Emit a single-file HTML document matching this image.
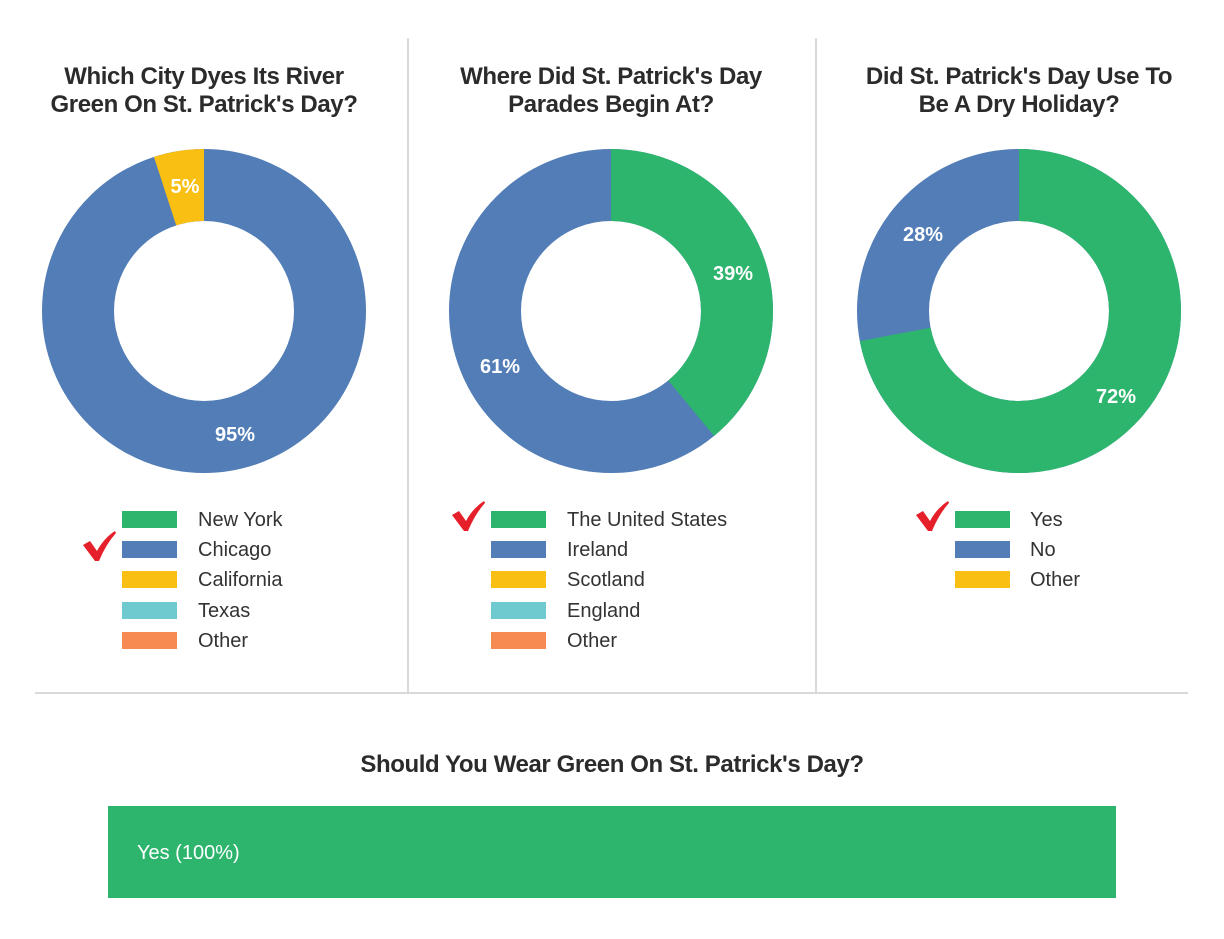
<!DOCTYPE html>
<html><head><meta charset="utf-8"><style>
body{margin:0;width:1224px;height:939px;background:#fff;position:relative;font-family:"Liberation Sans",Arial,sans-serif;overflow:hidden}
.t{position:absolute;font-weight:bold;font-size:24px;color:#2b2b2b;text-align:center;line-height:28px;letter-spacing:-0.4px;width:400px}
.sw{position:absolute;width:55px;height:17px}
.lt{position:absolute;font-size:20px;color:#333;line-height:20px}
.ln{position:absolute;background:#d9d9d9}
</style></head><body>
<div class="ln" style="left:407px;top:38px;width:2px;height:655px"></div>
<div class="ln" style="left:815px;top:38px;width:2px;height:655px"></div>
<div class="ln" style="left:35px;top:692px;width:1153px;height:2px"></div>
<div class="t" style="left:4px;top:63px">Which City Dyes Its River<br>Green On St. Patrick's Day?</div>
<div class="t" style="left:411px;top:63px">Where Did St. Patrick's Day<br>Parades Begin At?</div>
<div class="t" style="left:819px;top:63px">Did St. Patrick's Day Use To<br>Be A Dry Holiday?</div>
<svg width="1224" height="939" style="position:absolute;left:0;top:0">
<g fill="none" stroke-width="72">
<circle cx="204" cy="311" r="126" stroke="#527DB7"/>
<circle cx="204" cy="311" r="126" stroke="#F9C013" stroke-dasharray="39.6 800" transform="rotate(-108 204 311)"/>
<circle cx="611" cy="311" r="126" stroke="#527DB7"/>
<circle cx="611" cy="311" r="126" stroke="#2DB56D" stroke-dasharray="308.8 800" transform="rotate(-90 611 311)"/>
<circle cx="1019" cy="311" r="126" stroke="#527DB7"/>
<circle cx="1019" cy="311" r="126" stroke="#2DB56D" stroke-dasharray="570 800" transform="rotate(-90 1019 311)"/>
</g>
<g fill="#fff" font-weight="bold" font-size="20" text-anchor="middle" font-family="Liberation Sans,Arial,sans-serif">
<text x="185" y="193">5%</text><text x="235" y="441">95%</text>
<text x="733" y="280">39%</text><text x="500" y="373">61%</text>
<text x="923" y="241">28%</text><text x="1116" y="403">72%</text>
</g>
<g fill="#E5202A">
<path d="M83 545 L90 541 L97 551 Q104 538 115 531 L116 533 Q106 544 99 561 L95 561 Z"/>
<path d="M452 515 L459 511 L466 521 Q473 508 484 501 L485 503 Q475 514 468 531 L464 531 Z"/>
<path d="M916 515 L923 511 L930 521 Q937 508 948 501 L949 503 Q939 514 932 531 L928 531 Z"/>
</g>
</svg>
<div class="sw" style="left:122px;top:511px;background:#2DB56D"></div><div class="lt" style="left:198px;top:510px">New York</div>
<div class="sw" style="left:122px;top:541px;background:#527DB7"></div><div class="lt" style="left:198px;top:540px">Chicago</div>
<div class="sw" style="left:122px;top:571px;background:#F9C013"></div><div class="lt" style="left:198px;top:570px">California</div>
<div class="sw" style="left:122px;top:602px;background:#6ECACF"></div><div class="lt" style="left:198px;top:601px">Texas</div>
<div class="sw" style="left:122px;top:632px;background:#F58A53"></div><div class="lt" style="left:198px;top:631px">Other</div>
<div class="sw" style="left:491px;top:511px;background:#2DB56D"></div><div class="lt" style="left:567px;top:510px">The United States</div>
<div class="sw" style="left:491px;top:541px;background:#527DB7"></div><div class="lt" style="left:567px;top:540px">Ireland</div>
<div class="sw" style="left:491px;top:571px;background:#F9C013"></div><div class="lt" style="left:567px;top:570px">Scotland</div>
<div class="sw" style="left:491px;top:602px;background:#6ECACF"></div><div class="lt" style="left:567px;top:601px">England</div>
<div class="sw" style="left:491px;top:632px;background:#F58A53"></div><div class="lt" style="left:567px;top:631px">Other</div>
<div class="sw" style="left:955px;top:511px;background:#2DB56D"></div><div class="lt" style="left:1030px;top:510px">Yes</div>
<div class="sw" style="left:955px;top:541px;background:#527DB7"></div><div class="lt" style="left:1030px;top:540px">No</div>
<div class="sw" style="left:955px;top:571px;background:#F9C013"></div><div class="lt" style="left:1030px;top:570px">Other</div>
<div class="t" style="left:312px;top:751px;width:600px">Should You Wear Green On St. Patrick's Day?</div>
<div style="position:absolute;left:108px;top:806px;width:1008px;height:92px;background:#2DB56D"></div>
<div style="position:absolute;left:137px;top:842px;color:#fff;font-size:20px">Yes (100%)</div>
</body></html>
